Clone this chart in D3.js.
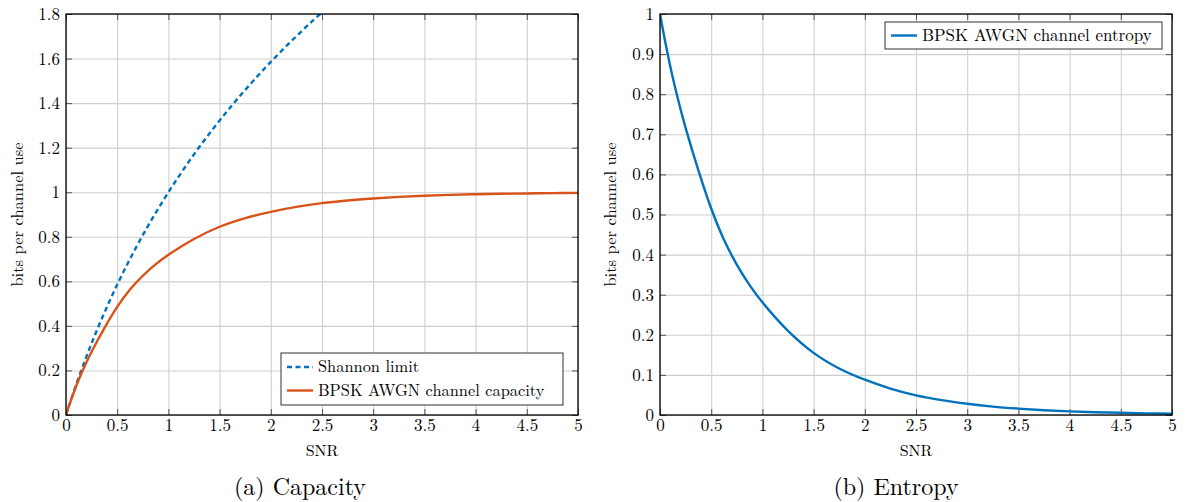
<!DOCTYPE html>
<html><head><meta charset="utf-8">
<script src="https://cdn.jsdelivr.net/npm/d3@7"></script>
<style>
html,body{margin:0;padding:0;background:#fff;}
</style></head>
<body><svg id="chart" width="1186" height="502"></svg>
<script>
// ---- data ----
const snr = [0,0.05,0.1,0.15,0.2,0.25,0.375,0.5,0.625,0.75,0.875,1,1.25,1.5,1.75,2,2.25,2.5,2.75,3,3.25,3.5,3.75,4,4.25,4.5,4.75,5];
const capacity = [0,0.068,0.130,0.186,0.237,0.284,0.390,0.485,0.563,0.625,0.676,0.719,0.790,0.845,0.884,0.912,0.934,0.951,0.963,0.972,0.979,0.984,0.988,0.991,0.993,0.9945,0.996,0.997];
const entropy = [1,0.932,0.870,0.814,0.763,0.716,0.610,0.515,0.437,0.375,0.324,0.281,0.210,0.155,0.116,0.088,0.066,0.049,0.037,0.028,0.021,0.016,0.012,0.009,0.007,0.0055,0.004,0.003];
const shannonSnr = [0,0.1,0.2,0.3,0.4,0.5,0.6,0.7,0.8,0.9,1.0,1.1,1.2,1.3,1.4,1.5,1.6,1.7,1.8,1.9,2.0,2.1,2.2,2.3,2.4,2.5];
const shannon = [0,0.1375,0.263,0.3785,0.485,0.585,0.678,0.7655,0.848,0.926,1.0,1.070,1.1375,1.2016,1.263,1.322,1.3785,1.433,1.485,1.536,1.585,1.632,1.678,1.7225,1.766,1.807];
const xTicks = [0,0.5,1,1.5,2,2.5,3,3.5,4,4.5,5];
const yTicksA = [0,0.2,0.4,0.6,0.8,1,1.2,1.4,1.6,1.8];
const yTicksB = [0,0.1,0.2,0.3,0.4,0.5,0.6,0.7,0.8,0.9,1];
const xLabel = "SNR";
const yLabel = "bits per channel use";
const captions = ["(a) Capacity","(b) Entropy"];
const legendA = ["Shannon limit","BPSK AWGN channel capacity"];
const legendB = ["BPSK AWGN channel entropy"];

const BLUE = "#0072BD", ORANGE = "#D95319";
const FONT = '"Latin Modern Roman", "Liberation Serif", serif';
const svg = d3.select("#chart");
const fmt = d => d3.format("~g")(d);

function panel(id, x0, x1, y0, y1, yMax, yTicks) {
  const x = d3.scaleLinear().domain([0,5]).range([x0,x1]);
  const y = d3.scaleLinear().domain([0,yMax]).range([y1,y0]);
  const g = svg.append("g");
  const H = y1 - y0, W = x1 - x0;
  // grid
  g.append("g").attr("transform",`translate(0,${y1})`)
    .call(d3.axisBottom(x).tickValues(xTicks).tickSize(-H).tickFormat(""))
    .call(s=>{s.select(".domain").remove(); s.selectAll("line").attr("stroke","#cfcfcf").attr("stroke-width",1.1);});
  g.append("g").attr("transform",`translate(${x0},0)`)
    .call(d3.axisLeft(y).tickValues(yTicks).tickSize(-W).tickFormat(""))
    .call(s=>{s.select(".domain").remove(); s.selectAll("line").attr("stroke","#cfcfcf").attr("stroke-width",1.1);});
  // inner ticks on all sides
  const tk = 6;
  const styleTicks = s=>{s.attr("font-family",FONT); s.select(".domain").remove(); s.selectAll("line").attr("stroke","#555").attr("stroke-width",1);};
  g.append("g").attr("transform",`translate(0,${y1})`)
    .call(d3.axisBottom(x).tickValues(xTicks).tickSize(-tk).tickFormat(fmt).tickPadding(4))
    .call(styleTicks)
    .call(s=>s.selectAll("text").attr("font-size",17).attr("font-family",FONT).attr("fill","#000"));
  g.append("g").attr("transform",`translate(0,${y0})`)
    .call(d3.axisTop(x).tickValues(xTicks).tickSize(-tk).tickFormat(""))
    .call(styleTicks);
  g.append("g").attr("transform",`translate(${x0},0)`)
    .call(d3.axisLeft(y).tickValues(yTicks).tickSize(-tk).tickFormat(fmt).tickPadding(6))
    .call(styleTicks)
    .call(s=>s.selectAll("text").attr("font-size",17).attr("font-family",FONT).attr("fill","#000"));
  g.append("g").attr("transform",`translate(${x1},0)`)
    .call(d3.axisRight(y).tickValues(yTicks).tickSize(-tk).tickFormat(""))
    .call(styleTicks);
  svg.append("defs").append("clipPath").attr("id",id)
    .append("rect").attr("x",x0).attr("y",y0).attr("width",W).attr("height",H);
  return {x,y,g,x0,x1,y0,y1};
}

function frame(p){
  p.g.append("rect").attr("x",p.x0).attr("y",p.y0).attr("width",p.x1-p.x0).attr("height",p.y1-p.y0)
    .attr("fill","none").attr("stroke","#000").attr("stroke-width",1.3);
}

function labels(p, ylx){
  p.g.append("text").attr("x",(p.x0+p.x1)/2).attr("y",456).attr("text-anchor","middle")
    .attr("font-family",FONT).attr("font-size",16).text(xLabel);
  p.g.append("text").attr("transform",`translate(${ylx},${(p.y0+p.y1)/2}) rotate(-90)`)
    .attr("text-anchor","middle").attr("font-family",FONT).attr("font-size",16.5).text(yLabel);
}

const smooth = d3.curveCatmullRom.alpha(0.5);

// ---- panel A ----
const A = panel("clipA", 66, 578, 14, 415, 1.8, yTicksA);
const lineA = d3.line().x((d,i)=>A.x(shannonSnr[i])).y(d=>A.y(d)).curve(smooth);
A.g.append("path").datum(shannon).attr("d",lineA).attr("clip-path","url(#clipA)")
  .attr("fill","none").attr("stroke",BLUE).attr("stroke-width",2.4).attr("stroke-dasharray","5,3.5");
const lineC = d3.line().x((d,i)=>A.x(snr[i])).y(d=>A.y(d)).curve(smooth);
A.g.append("path").datum(capacity).attr("d",lineC).attr("clip-path","url(#clipA)")
  .attr("fill","none").attr("stroke",ORANGE).attr("stroke-width",2.4);
frame(A);
labels(A, 23);
{
  const lg = A.g.append("g");
  lg.append("rect").attr("x",281).attr("y",353).attr("width",282).attr("height",52)
    .attr("fill","#fff").attr("stroke","#333").attr("stroke-width",1);
  const styles = [{c:BLUE,d:"5,3.5"},{c:ORANGE,d:null}];
  legendA.forEach((t,i)=>{
    const yy = 367 + i*23.5;
    lg.append("line").attr("x1",287).attr("x2",313).attr("y1",yy).attr("y2",yy)
      .attr("stroke",styles[i].c).attr("stroke-width",2.4).attr("stroke-dasharray",styles[i].d);
    lg.append("text").attr("x",318).attr("y",yy+5).attr("font-family",FONT).attr("font-size",16.4).text(t);
  });
}
svg.append("text").attr("x",300).attr("y",495).attr("text-anchor","middle").attr("font-family",FONT).attr("font-size",24).text(captions[0]);

// ---- panel B ----
const B = panel("clipB", 660, 1172, 14, 415, 1, yTicksB);
const lineE = d3.line().x((d,i)=>B.x(snr[i])).y(d=>B.y(d)).curve(smooth);
B.g.append("path").datum(entropy).attr("d",lineE).attr("clip-path","url(#clipB)")
  .attr("fill","none").attr("stroke",BLUE).attr("stroke-width",2.4);
frame(B);
labels(B, 616);
{
  const lg = B.g.append("g");
  lg.append("rect").attr("x",885).attr("y",22).attr("width",277).attr("height",27)
    .attr("fill","#fff").attr("stroke","#333").attr("stroke-width",1);
  legendB.forEach((t,i)=>{
    const yy = 35.5;
    lg.append("line").attr("x1",891).attr("x2",917).attr("y1",yy).attr("y2",yy)
      .attr("stroke",BLUE).attr("stroke-width",2.4);
    lg.append("text").attr("x",922).attr("y",yy+5).attr("font-family",FONT).attr("font-size",17).text(t);
  });
}
svg.append("text").attr("x",896).attr("y",495).attr("text-anchor","middle").attr("font-family",FONT).attr("font-size",24).text(captions[1]);
</script></body></html>
